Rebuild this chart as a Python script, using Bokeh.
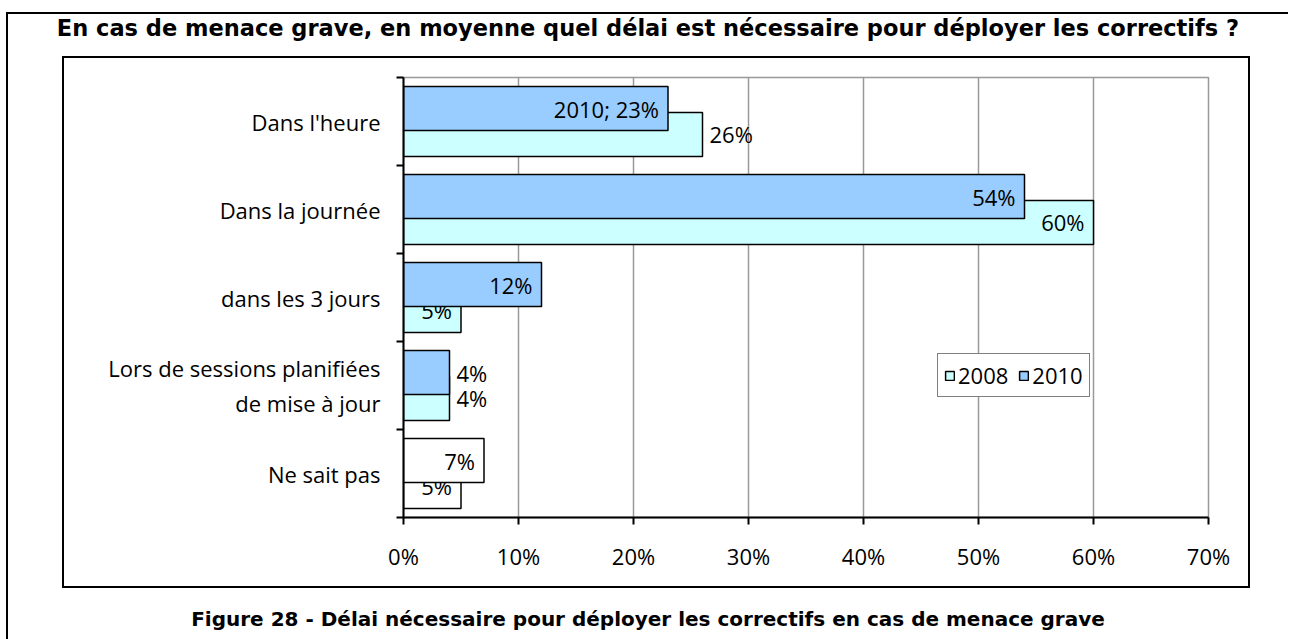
from bokeh.plotting import figure
from bokeh.layouts import column
from bokeh.models import (Range1d, LinearAxis, FixedTicker, ColumnDataSource, Div,
                          Legend, LegendItem)
from bokeh.core.properties import value
from bokeh.embed import file_html
from bokeh.resources import INLINE

# ---------------- data ----------------
categories = ["Dans l'heure", "Dans la journée", "dans les 3 jours",
              "Lors de sessions planifiées\nde mise à jour", "Ne sait pas"]
years = ["2008", "2010"]
values_2008 = [26, 60, 5, 4, 5]
values_2010 = [23, 54, 12, 4, 7]
label_inside_2008 = [False, True, True, False, True]
label_inside_2010 = [True, True, True, False, True]
x_ticks = [0, 10, 20, 30, 40, 50, 60, 70]
x_tick_labels = ["0%", "10%", "20%", "30%", "40%", "50%", "60%", "70%"]
title_text = "En cas de menace grave, en moyenne quel délai est nécessaire pour déployer les correctifs ?"
caption_text = "Figure 28 - Délai nécessaire pour déployer les correctifs en cas de menace grave"

# ---------------- styles ----------------
C2008 = "#CCFFFF"
C2010 = "#99CCFF"
NOANSWER = "Ne sait pas"
FONT = "Open Sans"
FS = "22px"
OFF = 0.1477
BORDER = "2px solid black"


def text_div(w, h, text, size, line_h):
    return Div(text=text, width=w, height=h, margin=0,
               styles={"font-family": "DejaVu Sans, sans-serif", "font-weight": "bold",
                       "font-size": size, "line-height": line_h, "text-align": "center",
                       "color": "black", "white-space": "nowrap", "width": f"{w}px",
                       "margin": "0px", "padding": "0px"})


n = len(categories)
centers = [n - 0.5 - i for i in range(n)]          # category slot centres (top to bottom)
fill_2008 = ["#FFFFFF" if c == NOANSWER else C2008 for c in categories]
fill_2010 = ["#FFFFFF" if c == NOANSWER else C2010 for c in categories]
lab_2008 = [f"{v}%" for v in values_2008]
lab_2010 = [f"{v}%" for v in values_2010]
lab_2010[0] = f"{years[1]}; {lab_2010[0]}"

src = ColumnDataSource(dict(
    cat=categories,
    y08=[c - OFF for c in centers], y10=[c + OFF for c in centers],
    v2008=values_2008, v2010=values_2010,
    f2008=fill_2008, f2010=fill_2010,
    l2008=lab_2008, l2010=lab_2010,
    a2008=["right" if i else "left" for i in label_inside_2008],
    a2010=["right" if i else "left" for i in label_inside_2010],
    o2008=[-9 if i else 7 for i in label_inside_2008],
    o2010=[-9 if i else 7 for i in label_inside_2010],
))

p = figure(width=1184, height=528, output_backend="svg", toolbar_location=None,
           x_range=Range1d(0, 70), y_range=Range1d(0, n),
           y_axis_location=None,
           min_border_left=339, min_border_right=40, min_border_top=19, min_border_bottom=69)
p.background_fill_color = "white"
p.border_fill_color = "white"
p.outline_line_color = "#999999"
p.outline_line_width = 1.5
p.styles = {"outline": BORDER}
p.margin = (0, 0, 0, 56)

# x axis
ticker = FixedTicker(ticks=x_ticks)
xa = p.xaxis[0]
xa.ticker = ticker
xa.major_label_overrides = {t: s for t, s in zip(x_ticks, x_tick_labels)}
xa.major_tick_in = 0
xa.major_tick_out = 7
xa.minor_tick_out = 0
xa.minor_tick_in = 0
xa.axis_line_width = 2
xa.axis_line_color = "black"
xa.major_tick_line_width = 2
xa.major_tick_line_color = "black"
xa.major_label_text_font = FONT
xa.major_label_text_font_size = FS
xa.major_label_text_color = "black"
xa.major_label_standoff = 16
p.xgrid.ticker = ticker
p.xgrid.grid_line_color = "#999999"
p.xgrid.grid_line_width = 1.5
p.ygrid.visible = False

# y axes: boundary ticks (inner) + category labels (outer)
bounds = list(range(n + 1))
ta = LinearAxis(ticker=FixedTicker(ticks=bounds),
                major_label_overrides={b: "" for b in bounds}, major_label_standoff=0,
                major_tick_in=0, major_tick_out=7, minor_tick_in=0, minor_tick_out=0,
                axis_line_width=2, axis_line_color="black",
                major_tick_line_width=2, major_tick_line_color="black")
p.add_layout(ta, "left")
ca = LinearAxis(ticker=FixedTicker(ticks=centers),
                major_label_overrides={c: s for c, s in zip(centers, categories)},
                major_tick_in=0, major_tick_out=0, minor_tick_in=0, minor_tick_out=0,
                axis_line_color=None,
                major_label_standoff=16, major_label_text_font=FONT,
                major_label_text_font_size=FS, major_label_text_color="black",
                major_label_text_line_height=1.17)
p.add_layout(ca, "left")

# bars and labels
r08 = p.hbar(y="y08", left=0, right="v2008", height=0.5, fill_color="f2008",
             line_color="black", line_width=1.5, source=src)
p.text(x="v2008", y="y08", text="l2008", text_align="a2008", x_offset="o2008",
       text_baseline="middle", text_font=value(FONT), text_font_size=FS,
       text_color="black", source=src)
r10 = p.hbar(y="y10", left=0, right="v2010", height=0.5, fill_color="f2010",
             line_color="black", line_width=1.5, source=src)
p.text(x="v2010", y="y10", text="l2010", text_align="a2010", x_offset="o2010",
       text_baseline="middle", text_font=value(FONT), text_font_size=FS,
       text_color="black", source=src)

legend = Legend(items=[LegendItem(label=years[0], renderers=[r08], index=0),
                       LegendItem(label=years[1], renderers=[r10], index=0)],
                orientation="horizontal", location=(534, 120),
                label_text_font=FONT, label_text_font_size=FS, label_text_color="black",
                glyph_width=11, glyph_height=11, label_standoff=3, spacing=10,
                padding=6, margin=0, border_line_color="black", border_line_width=1.5,
                background_fill_color="white", background_fill_alpha=1.0)
p.add_layout(legend, "center")

title_d = text_div(1280, 44, title_text, "22.5px", "28px")
caption_d = text_div(1280, 53, caption_text, "20px", "66px")

root = column(title_d, p, caption_d)
root.styles = {"border-left": BORDER, "border-top": BORDER}
root.margin = (12, 0, 0, 6)

open("out.html", "w").write(file_html(root, INLINE))
